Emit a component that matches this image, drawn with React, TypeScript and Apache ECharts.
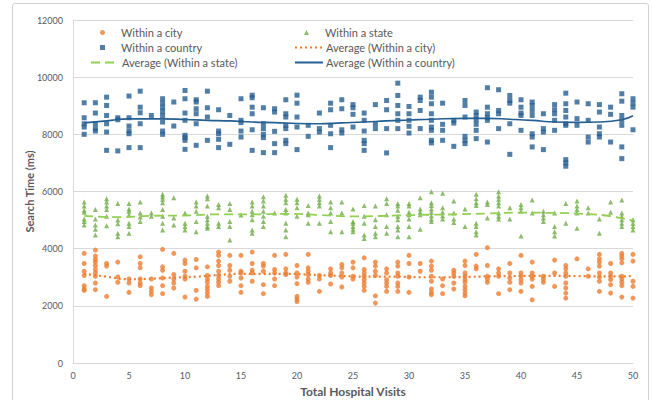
import React, { useEffect, useRef } from "react";
import * as echarts from "echarts";

const visits: number[] = Array.from({ length: 50 }, (_, i) => i + 1);

const cityValues: number[][] = [
  [3835, 3480, 3210, 3060, 2705, 2590, 2540],
  [3950, 3740, 3620, 3530, 3410, 3270, 3150, 3035, 2800, 2565],
  [3480, 3390, 2330],
  [3530, 3010, 2825],
  [2940, 2800, 2470],
  [3715, 3480, 3330, 2940, 2800, 2705],
  [2940, 2625, 2505, 2390],
  [3975, 3365, 3245, 2975, 2705, 2425],
  [3835, 3095, 2940, 2800, 2625],
  [3600, 3480, 3210, 3035, 2940, 2305],
  [3620, 3330, 2540, 2235],
  [3365, 3060, 2940, 2825, 2680, 2565, 2445, 2330],
  [3880, 3765, 3565, 3410, 3210, 3060, 2940, 2825, 2705],
  [3765, 3410, 3245, 3035, 2860],
  [3765, 3210, 3150, 2975, 2705, 2470],
  [3880, 3480, 3245, 3150, 2860],
  [3480, 3390, 3210, 2740, 2425],
  [3765, 3270, 3150, 2940, 2705],
  [3800, 3295, 3150, 3095],
  [3410, 3150, 3010, 2775, 2330, 2235, 2150],
  [3800, 3330, 3210, 3095, 2940, 2825],
  [3060, 2940, 2505],
  [3295, 3150, 3060, 2765],
  [3445, 3330, 3150, 3010, 2660],
  [3530, 3330, 3035, 2940],
  [3680, 3270, 3150, 3035, 2915, 2800, 2680, 2540],
  [3530, 3390, 3210, 3060, 2350, 2095],
  [3295, 3150, 2915, 2800, 2680, 2505],
  [3530, 3390, 3150, 3035, 2800, 2680, 2505],
  [3765, 3480, 3010, 2470],
  [3480, 3210],
  [3565, 3390, 3245, 3035, 2860, 2590, 2470, 2390],
  [2940, 2705, 2425],
  [3245, 3150, 3035, 2800, 2590],
  [3565, 3410, 3150, 3035, 2915, 2825, 2680, 2565, 2445, 2350],
  [3800, 3390, 3295],
  [4035, 3410, 3035, 2940, 2825],
  [3295, 3150, 3035, 2425],
  [3480, 3150, 2975, 2825, 2565],
  [3765, 3150, 3035, 2915, 2800, 2505],
  [3530, 3150, 3035, 2940, 2680, 2210],
  [3035, 2940, 2825],
  [3600, 3150, 2680],
  [3410, 3295, 3150, 3035, 2800, 2625, 2445, 2270],
  [3645],
  [3295, 3035],
  [3800, 3645, 3530, 3390, 3150, 3010, 2860, 2505],
  [3480, 3150, 3035, 2915, 2740, 2445],
  [3835, 3740, 3645, 3505, 3035, 2940, 2825, 2705, 2305],
  [3800, 3565, 2860, 2680, 2270],
];

const stateValues: number[][] = [
  [5630, 5490, 5345, 5275, 5035, 4950, 4830],
  [5370, 5035, 4830, 4680, 4475],
  [5750, 5630, 5490, 5370, 5130, 4800],
  [5580, 5000, 4870, 4535, 4415],
  [5580, 5390, 5310, 5190, 4890, 4775, 4535],
  [5630, 5250, 5105, 4950],
  [5250, 5130],
  [5905, 5820, 5725, 5605, 5370, 5130, 4890, 4655],
  [5785, 5070, 4830],
  [5250, 4890, 4775, 4655],
  [5630, 5490, 5310, 4950, 4595],
  [5845, 5750, 5490, 5130, 5010, 4890, 4775, 4715],
  [5545, 5430, 4890, 4775],
  [5580, 5370, 4950, 4775, 4300],
  [5180],
  [5630, 5490, 5310, 5190, 5010, 4655, 4535],
  [5820, 5665, 5490, 5310, 5130, 4950, 4775],
  [5250],
  [5870, 5725, 5605, 5370, 5250, 4890, 4655, 4415],
  [5725, 5605, 5430, 5130],
  [5510, 5250, 5190, 4890],
  [5845, 5725, 5605, 5490, 4890],
  [5630, 5430, 5250, 4950, 4595],
  [5630, 5250, 4595],
  [5390, 4950, 4890, 4775, 4680, 4595],
  [5510, 5130, 4890, 4475, 4355],
  [5490, 5010, 4775, 4535, 4415],
  [5750, 5580, 5190, 4775, 4535],
  [5580, 5490, 5345, 5130, 5010, 4775, 4655, 4415],
  [5580, 5490, 5275, 5190, 5035, 4775, 4415],
  [5785, 5390, 5275, 5190, 4680],
  [5990, 5605, 5510, 5390, 5275, 5155, 5035, 4950],
  [5940, 5430, 5275, 5155, 5035],
  [5665, 5250, 5035, 4915],
  [5390, 4775],
  [5905, 5750, 5605, 5510, 4890, 4775, 4595, 4475],
  [5630, 5545, 5070],
  [5990, 5845, 5725, 5605, 5490, 5250, 5130, 5035],
  [5430, 5035],
  [5545, 5430, 5310, 4440],
  [5700, 5250],
  [5310, 5190, 5070, 4950],
  [5250, 4775, 4595, 4440],
  [5580, 4890],
  [5665, 5490, 5370, 5250, 4715],
  [5430, 5250],
  [5035, 4535],
  [5630, 5275],
  [5700, 5250, 5130, 5010, 4890, 4775],
  [5010, 4890, 4775, 4655],
];

const countryValues: number[][] = [
  [9105, 8580, 8370, 8255, 8000],
  [9105, 8745, 8370, 8200, 8115],
  [9300, 9010, 8660, 8370, 8080, 7440],
  [8580, 8510, 7420],
  [9340, 8580, 8290, 8115, 8020, 7535],
  [9510, 8950, 8755, 8370, 7535],
  [8660],
  [9245, 9090, 8950, 8810, 8660, 8430, 8115, 8000],
  [9130, 8290],
  [9535, 9245, 8745, 8490, 7965, 7885, 7790, 7475],
  [9210, 9130, 8895, 8720, 8370, 7615],
  [9510, 8930, 8605, 7790],
  [8860, 8115, 8020, 7825, 7535],
  [8660, 7650],
  [9245, 8490, 8410, 8115, 7905],
  [9370, 9280, 8950, 8720, 8160, 7440],
  [8930, 8370, 8200, 8000, 7885, 7360],
  [8895, 8780, 8105, 7675, 7360],
  [9210, 8720, 8605, 8315, 8200, 7790, 7675],
  [9370, 9090, 8605, 8255, 7465],
  [8315, 7930],
  [8745, 8200, 8080],
  [9090, 8860, 8315, 8020, 7535],
  [9210, 8895, 8160, 8045],
  [9040, 8930, 8700, 8255],
  [8745, 8490, 8115, 7790, 7675, 7440],
  [9040, 8370, 8200],
  [9185, 8860, 8200, 7350],
  [9790, 9360, 9010, 8720, 8490, 8200],
  [8975, 8720, 8490, 8280, 8045],
  [9300, 9185, 8835, 8200],
  [9475, 9300, 9070, 8720, 8490, 8255, 8140, 7790, 7700],
  [9090, 8350, 8140, 7790],
  [8490, 8395, 7580],
  [9185, 9010, 8605, 7930, 7790, 7675],
  [8780, 8660, 8510, 8350, 8140, 7850],
  [9630, 8950, 8720, 8580, 8490, 7730],
  [9560, 8835, 8720, 8200],
  [9360, 9185, 9090, 8370, 7300],
  [9210, 8950, 8745, 8660, 8140],
  [9130, 9010, 8835, 8660, 8020, 7905, 7560],
  [8720, 8200, 8080, 7465],
  [9040, 8860, 8720, 8490, 8140],
  [9440, 9070, 8835, 8605, 8370, 8315, 7115, 7000, 6885],
  [9130, 8550, 8315],
  [9070, 8490, 7905, 7730],
  [9040, 8780, 8255, 8020, 7905],
  [8950, 8700, 7730],
  [9420, 9160, 8660, 8490, 8315, 7560, 7150],
  [9245, 9090, 8950, 8160],
];

const cityAvgX: number[] = [1, 3, 5, 7, 9, 11, 13, 15, 17, 19, 21, 23, 25, 27, 29, 31, 33, 35, 37, 39, 41, 43, 45, 47, 49, 50];
const cityAvg: number[] = [3120, 3020, 2930, 2950, 2990, 3020, 3080, 3120, 3120, 3120, 3090, 3060, 3030, 3020, 3020, 3000, 3000, 3010, 3030, 3040, 3050, 3050, 3040, 3030, 3030, 3040];

const stateAvgX: number[] = [1, 4, 7, 10, 13, 16, 19, 22, 25, 28, 31, 34, 37, 40, 43, 46, 48, 49, 50];
const stateAvg: number[] = [5150, 5100, 5150, 5160, 5200, 5200, 5220, 5180, 5130, 5150, 5180, 5200, 5230, 5260, 5250, 5210, 5140, 5060, 4990];

const countryAvgX: number[] = [1, 3, 5, 8, 10, 12, 14, 16, 18, 20, 22, 24, 26, 28, 30, 32, 35, 37, 39, 41, 43, 45, 47, 49, 50];
const countryAvg: number[] = [8400, 8470, 8540, 8540, 8520, 8490, 8470, 8430, 8410, 8380, 8370, 8400, 8430, 8470, 8500, 8530, 8560, 8560, 8530, 8490, 8430, 8420, 8430, 8510, 8650];

const xTicks = { min: 0, max: 50, interval: 5 };
const yTicks = { min: 0, max: 12000, interval: 2000 };

const ORANGE = "#ED7D31";
const GREEN = "#70AD47";
const GREEN_LINE = "#92D050";
const BLUE = "#255E91";
const TEXT = "#595959";
const FONT = "Lato, 'Liberation Sans', sans-serif";

function toPoints(vals: number[][]): number[][] {
  const out: number[][] = [];
  vals.forEach((arr, i) => arr.forEach((v) => out.push([visits[i], v])));
  return out;
}
function zip(xs: number[], ys: number[]): number[][] {
  return xs.map((x, i) => [x, ys[i]]);
}

export default function App() {
  const ref = useRef<HTMLDivElement>(null);
  useEffect(() => {
    if (!ref.current) return;
    document.body.style.margin = "0";
    document.body.style.overflow = "hidden";
    const chart = echarts.init(ref.current, undefined, { renderer: "svg" });
    const scatterLegend = {
      orient: "vertical" as const,
      itemWidth: 5,
      itemHeight: 5,
      itemGap: 2,
      textStyle: { color: TEXT, fontSize: 11, fontFamily: FONT, padding: [0, 0, 0, 11], lineHeight: 13 },
      selectedMode: false,
      padding: 0,
    };
    const lineLegend = {
      orient: "vertical" as const,
      itemWidth: 28,
      itemHeight: 5,
      itemGap: 2,
      itemStyle: { opacity: 0 },
      textStyle: { color: TEXT, fontSize: 11, fontFamily: FONT, padding: [0, 0, 0, -2], lineHeight: 13 },
      selectedMode: false,
      padding: 0,
    };
    chart.setOption({
      animation: false,
      backgroundColor: "#ffffff",
      graphic: [
        {
          type: "rect",
          shape: { x: 12.5, y: 3.5, width: 636, height: 400, r: 2 },
          style: { fill: "none", stroke: "#d0d0d0", lineWidth: 1 },
          silent: true,
          z: -10,
        },
      ],
      grid: { left: 73, right: 19, top: 20, bottom: 37, outerBoundsMode: "none" },
      legend: [
        { ...scatterLegend, left: 100, top: 26, data: ["Within a city", "Within a country"] },
        { ...lineLegend, left: 90, top: 56, data: ["Average (Within a state)"] },
        { ...scatterLegend, left: 304, top: 26, data: ["Within a state"] },
        { ...lineLegend, left: 294, top: 41, data: ["Average (Within a city)", "Average (Within a country)"] },
      ],
      xAxis: {
        type: "value",
        ...xTicks,
        name: "Total Hospital Visits",
        nameLocation: "middle",
        nameGap: 22,
        nameTextStyle: { color: TEXT, fontSize: 12, fontWeight: "bold", fontFamily: FONT },
        axisLine: { show: true, lineStyle: { color: "#d9d9d9" } },
        axisTick: { show: false },
        splitLine: { show: false },
        axisLabel: { color: TEXT, fontSize: 9, fontFamily: FONT, margin: 8 },
      },
      yAxis: {
        type: "value",
        ...yTicks,
        name: "Search Time (ms)",
        nameLocation: "middle",
        nameGap: 38,
        nameMoveOverlap: false,
        nameTextStyle: { color: TEXT, fontSize: 11, fontWeight: "bold", fontFamily: FONT },
        axisLine: { show: true, lineStyle: { color: "#d9d9d9" } },
        axisTick: { show: false },
        splitLine: { show: true, lineStyle: { color: "#d9d9d9" } },
        axisLabel: { color: TEXT, fontSize: 9, fontFamily: FONT, margin: 10, formatter: (v: number) => String(v) },
      },
      series: [
        {
          name: "Within a city",
          type: "scatter",
          symbol: "circle",
          symbolSize: 5,
          itemStyle: { color: ORANGE },
          data: toPoints(cityValues),
        },
        {
          name: "Within a state",
          type: "scatter",
          symbol: "triangle",
          symbolSize: 5,
          itemStyle: { color: GREEN },
          data: toPoints(stateValues),
        },
        {
          name: "Within a country",
          type: "scatter",
          symbol: "rect",
          symbolSize: 5,
          itemStyle: { color: BLUE },
          data: toPoints(countryValues),
        },
        {
          name: "Average (Within a city)",
          type: "line",
          smooth: true,
          symbol: "none",
          lineStyle: { color: ORANGE, width: 2.2, type: [2, 3] },
          itemStyle: { color: ORANGE },
          data: zip(cityAvgX, cityAvg),
          z: 3,
        },
        {
          name: "Average (Within a state)",
          type: "line",
          smooth: true,
          symbol: "none",
          lineStyle: { color: GREEN_LINE, width: 1.8, type: [9, 5] },
          itemStyle: { color: GREEN_LINE },
          data: zip(stateAvgX, stateAvg),
          z: 3,
        },
        {
          name: "Average (Within a country)",
          type: "line",
          smooth: true,
          symbol: "none",
          lineStyle: { color: BLUE, width: 1.6, type: "solid" },
          itemStyle: { color: BLUE },
          data: zip(countryAvgX, countryAvg),
          z: 3,
        },
      ],
    });
    return () => chart.dispose();
  }, []);
  return <div ref={ref} style={{ position: "absolute", left: 0, top: 0, width: 652, height: 400 }} />;
}
